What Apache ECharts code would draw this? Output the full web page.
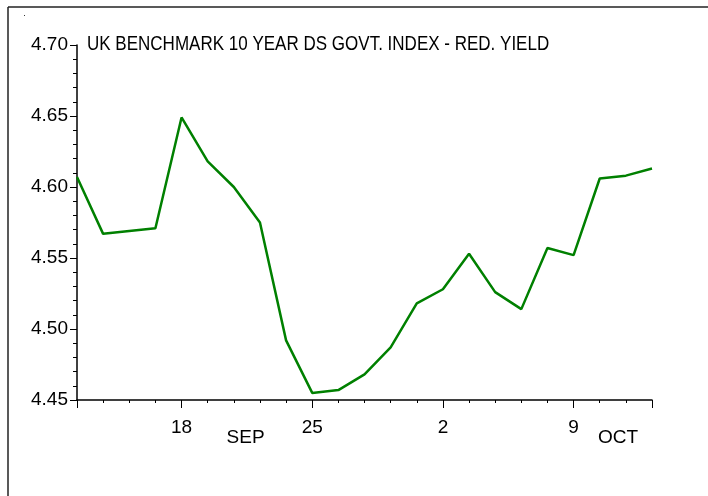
<!DOCTYPE html>
<html>
<head>
    <meta charset="utf-8">
    <title>UK benchmark 10 year</title>
    <script src="https://cdn.jsdelivr.net/npm/echarts@6/dist/echarts.min.js"></script>
    <style>
        html, body { margin: 0; padding: 0; background: #fff; }
        #chart1 { width: 708px; height: 496px; }
    </style>
</head>
<body>
<div id="chart1"></div>
<script>
    // business days, 12 Sep .. 12 Oct
    var days = ['12 Sep', '13 Sep', '14 Sep', '15 Sep',
        '18 Sep', '19 Sep', '20 Sep', '21 Sep', '22 Sep',
        '25 Sep', '26 Sep', '27 Sep', '28 Sep', '29 Sep',
        '2 Oct', '3 Oct', '4 Oct', '5 Oct', '6 Oct',
        '9 Oct', '10 Oct', '11 Oct', '12 Oct'];
    var yields = [4.607, 4.567, 4.569, 4.571,
        4.649, 4.618, 4.600, 4.575, 4.492,
        4.455, 4.457, 4.468, 4.487, 4.518,
        4.528, 4.553, 4.526, 4.514, 4.557,
        4.552, 4.606, 4.608, 4.613];
    // day labels under the monday ticks
    var weekTicks = [4, 9, 14, 19];
    var weekLabels = ['18', '25', '2', '9'];
    // month names, placed between ticks
    var monthPos = [6.45, 20.7];
    var monthLabels = ['SEP', 'OCT'];
    var yTicks = ['4.45', '4.50', '4.55', '4.60', '4.65', '4.70'];
    var titleText = 'UK BENCHMARK 10 YEAR DS GOVT. INDEX - RED. YIELD';

    var font = '"Liberation Sans", Arial, sans-serif';
    var allTicks = days.map(function (d, i) { return i; });
    var bigTicks = [0].concat(weekTicks, [days.length - 1]);

    var chart = echarts.init(document.getElementById('chart1'), null, {renderer: 'canvas'});
    chart.setOption({
        animation: false,
        backgroundColor: '#fff',
        grid: {left: 77, right: 56, top: 45, bottom: 96},
        xAxis: [{
            type: 'value',
            min: 0,
            max: days.length - 1,
            axisLine: {lineStyle: {color: '#000', width: 1.5}},
            axisTick: {length: 3, customValues: allTicks, lineStyle: {color: '#000'}},
            splitLine: {show: false},
            axisLabel: {
                customValues: weekTicks,
                margin: 18,
                fontFamily: font, fontSize: 19, color: '#000',
                formatter: function (v) { return weekLabels[weekTicks.indexOf(v)]; }
            }
        }, {
            type: 'value',
            position: 'bottom',
            min: 0,
            max: days.length - 1,
            axisLine: {show: false},
            axisTick: {length: 8, customValues: bigTicks, lineStyle: {color: '#000'}},
            splitLine: {show: false},
            axisLabel: {
                customValues: monthPos,
                margin: 28,
                fontFamily: font, fontSize: 19, color: '#000',
                formatter: function (v) { return monthLabels[monthPos.indexOf(v)]; }
            }
        }],
        yAxis: {
            type: 'value',
            min: 4.45,
            max: 4.70,
            interval: 0.05,
            axisLine: {show: true, lineStyle: {color: '#000', width: 1.5}},
            axisTick: {show: true, length: 7, lineStyle: {color: '#000'}},
            minorTick: {show: true, splitNumber: 5, length: 4, lineStyle: {color: '#000'}},
            splitLine: {show: false},
            axisLabel: {
                margin: 9,
                padding: [6, 0, 0, 0],
                fontFamily: font, fontSize: 19, color: '#000',
                formatter: function (v) { return yTicks[Math.round((v - 4.45) / 0.05)]; }
            }
        },
        series: [{
            type: 'line',
            data: yields.map(function (v, i) { return [i, v]; }),
            symbol: 'none',
            lineStyle: {color: '#008000', width: 2.5}
        }],
        graphic: [
            {type: 'line', shape: {x1: 8, y1: 7, x2: 708, y2: 7}, style: {stroke: '#222', lineWidth: 1.5}},
            {type: 'line', shape: {x1: 8, y1: 7, x2: 8, y2: 496}, style: {stroke: '#222', lineWidth: 1.5}},
            {type: 'rect', shape: {x: 24, y: 15, width: 1, height: 1}, style: {fill: '#333'}},
            // narrow title, squeezed to look like the condensed original
            {type: 'text', x: 87, y: 34, scaleX: 0.81,
                style: {text: titleText, fontFamily: font, fontSize: 21, fill: '#000'}}
        ]
    });
</script>
</body>
</html>
